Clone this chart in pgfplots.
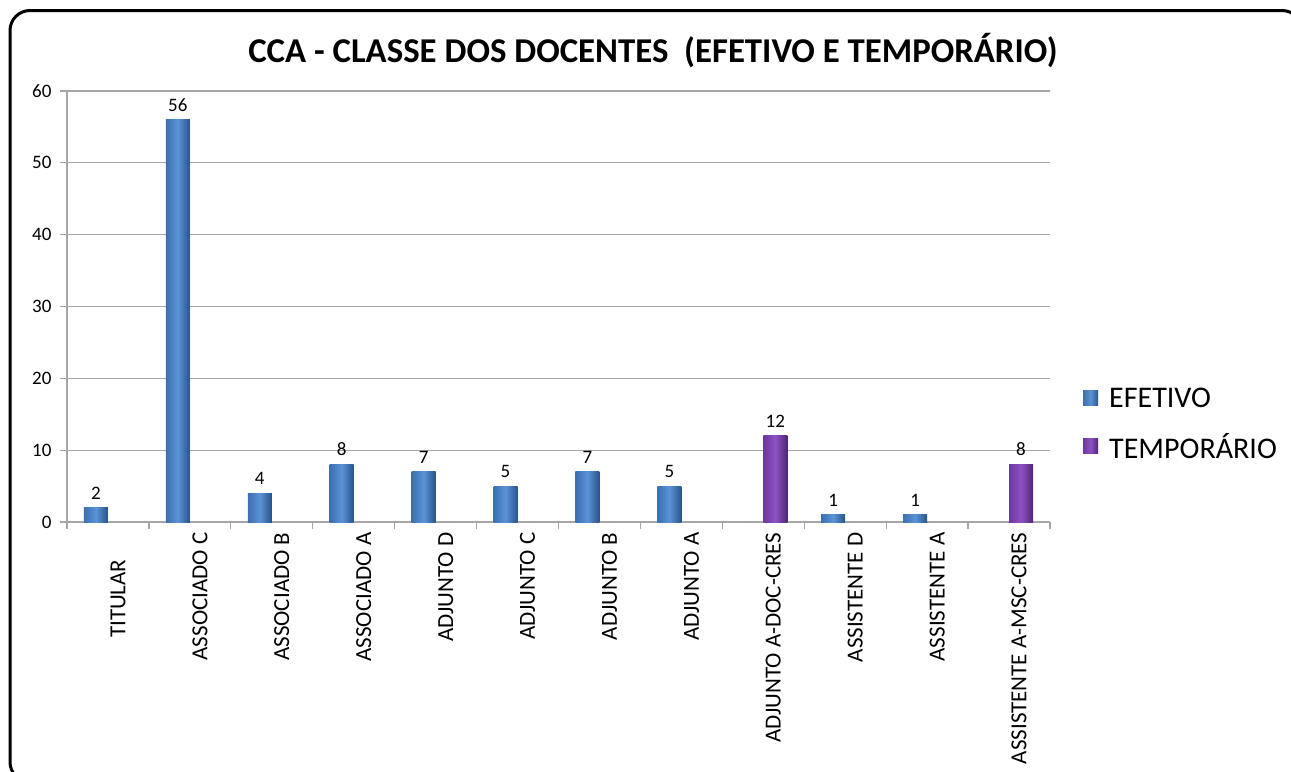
\documentclass[border=0pt]{standalone}
\usepackage{fontspec}
\setmainfont{Carlito}
\usepackage{pgfplots}
\pgfplotsset{compat=1.18}
\definecolor{gridc}{HTML}{A6A6A6}
\definecolor{blueM}{HTML}{5B93D6}
\definecolor{blueL}{HTML}{3C70B0}
\definecolor{blueD}{HTML}{28538A}
\definecolor{purM}{HTML}{8E52C4}
\definecolor{purL}{HTML}{6E36A0}
\definecolor{purD}{HTML}{4F2575}
\begin{document}
\begin{tikzpicture}
\path[use as bounding box] (0,0) rectangle (1291bp,-772bp);
\fill[white] (0,0) rectangle (1291bp,-772bp);
\draw[line width=3bp, rounded corners=20bp] (10bp,-10.5bp) rectangle (1302bp,-782bp);
\node[font=\bfseries\fontsize{34.8bp}{40bp}\selectfont, anchor=base, inner sep=0pt] at (653bp,-62bp) {CCA - CLASSE DOS DOCENTES\ \ (EFETIVO E TEMPORÁRIO)};
\begin{axis}[
  at={(67bp,-522bp)}, anchor=south west,
  scale only axis, width=983bp, height=431bp,
  xmin=-0.5, xmax=11.5, ymin=0, ymax=60,
  ytick={0,10,...,60},
  xtick={0,...,11},
  xticklabels={TITULAR\hspace*{27bp},ASSOCIADO C,ASSOCIADO B,ASSOCIADO A,ADJUNTO D,ADJUNTO C,ADJUNTO B,ADJUNTO A,ADJUNTO A-DOC-CRES,ASSISTENTE D,ASSISTENTE A,ASSISTENTE A-MSC-CRES},
  minor xtick={-0.5,0.5,...,11.5},
  axis x line*=bottom, axis y line*=left,
  x axis line style={-, draw=gridc, line width=1.3bp},
  y axis line style={-, draw=gridc, line width=1.3bp},
  ymajorgrids, grid style={draw=gridc, line width=1.3bp},
  tick align=outside,
  major tick length=7bp, minor tick length=7bp,
  major x tick style={draw=none},
  minor x tick style={draw=gridc, line width=1.3bp},
  ytick style={draw=gridc, line width=1.3bp},
  /pgf/number format/assume math mode=true,
  yticklabel style={font=\fontsize{19bp}{22bp}\selectfont, xshift=-5bp},
  xticklabel style={font=\fontsize{23bp}{27bp}\selectfont, rotate=90, anchor=east, yshift=-10bp},
  ybar, bar width=24bp,
  nodes near coords,
  every node near coord/.append style={font=\fontsize{19bp}{22bp}\selectfont, text=black, yshift=5bp},
  legend style={at={(axis description cs:1.0336,0.227)}, anchor=west, draw=none, fill=none, inner sep=0pt,
    font=\fontsize{30bp}{34bp}\selectfont, row sep=20bp, legend cell align=left,
    /tikz/every odd column/.style={column sep=9bp}},
  legend image code/.code={\fill[#1] (0bp,-7bp) rectangle (15bp,8bp);},
  eb/.style={draw=none, left color=blueL, right color=blueD, middle color=blueM, bar shift=-12bp},
  tb/.style={draw=none, left color=purL, right color=purD, middle color=purM, bar shift=12bp},
]
% EFETIVO
\addplot[eb] coordinates {(0,2)};
\addlegendentry{EFETIVO}
\addplot[eb, forget plot] coordinates {(1,56)};
\addplot[eb, forget plot] coordinates {(2,4)};
\addplot[eb, forget plot] coordinates {(3,8)};
\addplot[eb, forget plot] coordinates {(4,7)};
\addplot[eb, forget plot] coordinates {(5,5)};
\addplot[eb, forget plot] coordinates {(6,7)};
\addplot[eb, forget plot] coordinates {(7,5)};
\addplot[eb, forget plot] coordinates {(9,1)};
\addplot[eb, forget plot] coordinates {(10,1)};
% TEMPORARIO
\addplot[tb] coordinates {(8,12)};
\addlegendentry{TEMPORÁRIO}
\addplot[tb, forget plot] coordinates {(11,8)};
\end{axis}
\end{tikzpicture}
\end{document}
